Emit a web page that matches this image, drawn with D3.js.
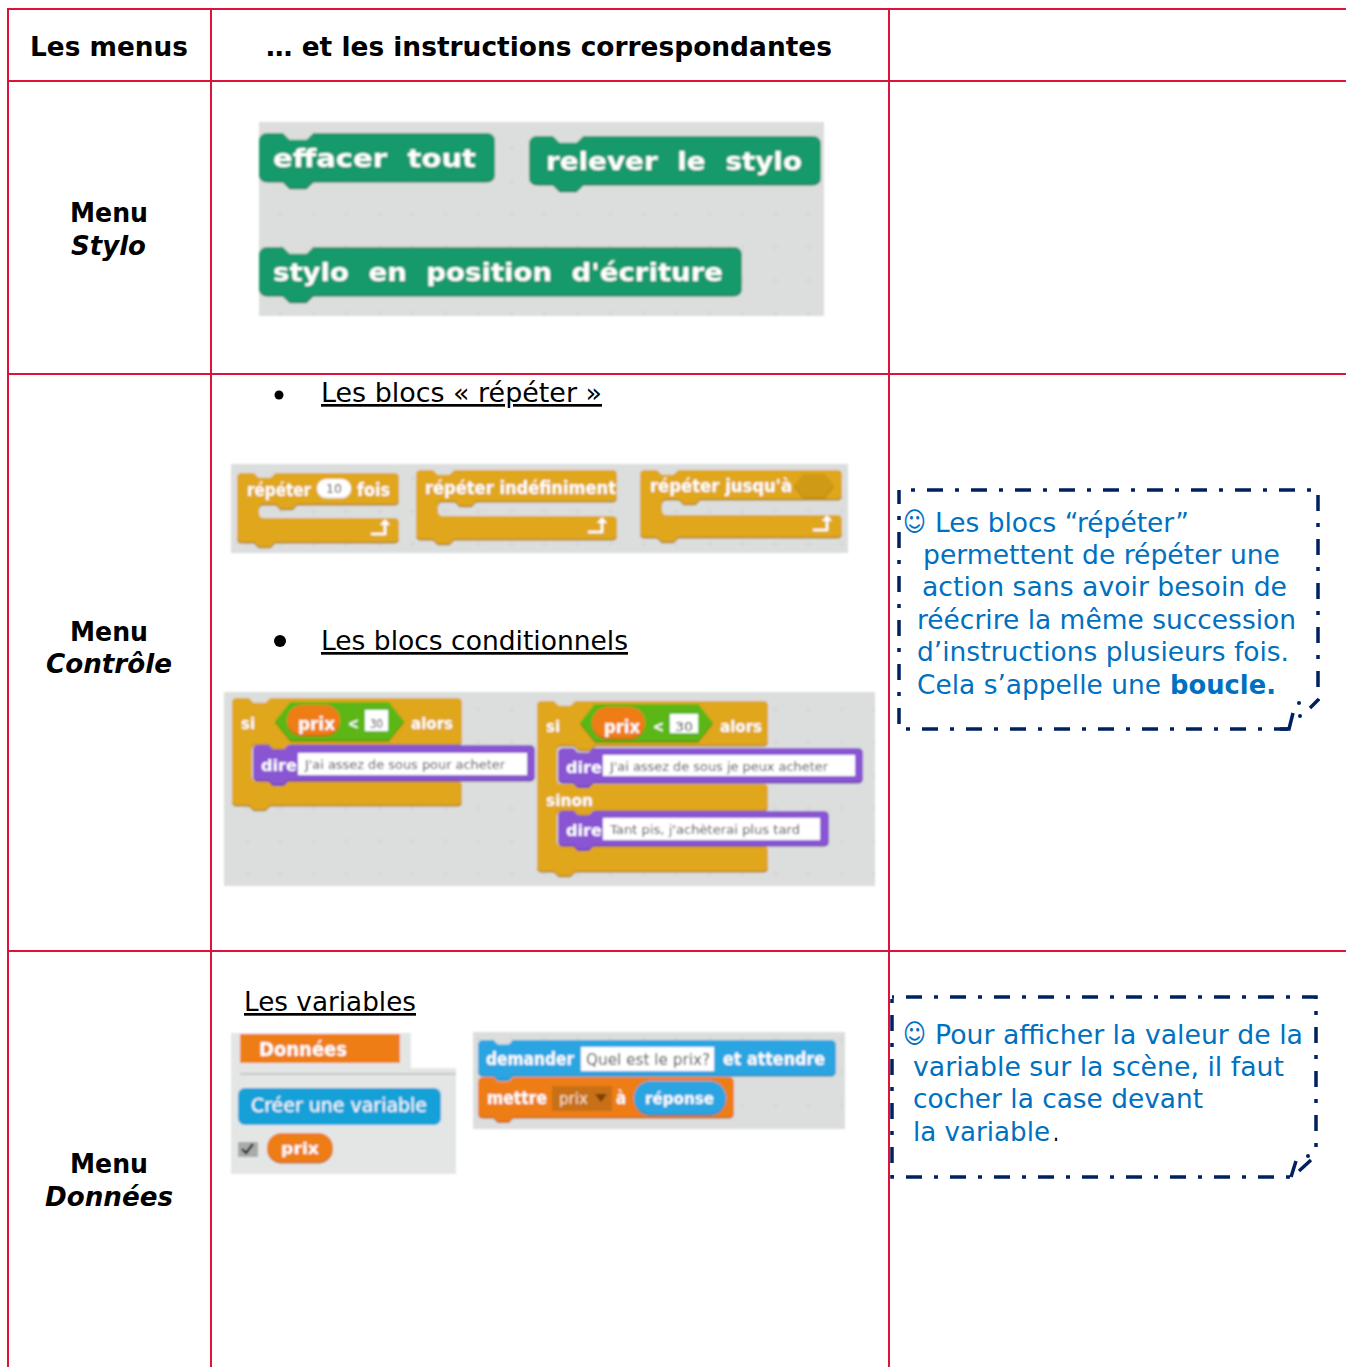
<!DOCTYPE html>
<html><head><meta charset="utf-8">
<style>html,body{margin:0;padding:0;background:#fff;overflow:hidden}svg{display:block}text{font-family:"DejaVu Sans",sans-serif}</style>
<script src="https://cdn.jsdelivr.net/npm/d3@7"></script></head><body>
<svg id="c" width="1349" height="1367"></svg>
<script>
// ---- content ----
const headers = ["Les menus", "… et les instructions correspondantes"];
const menuWord = "Menu";
const menuNames = ["Stylo", "Contrôle", "Données"];
const penBlocks = ["effacer tout", "relever le stylo", "stylo en position d'écriture"];
const sectionTitles = ["Les blocs « répéter »", "Les blocs conditionnels", "Les variables"];
const repeatLabels = ["répéter", "fois", "répéter indéfiniment", "répéter jusqu'à", "10"];
const condWords = ["si", "prix", "<", "30", "alors", "dire", "sinon"];
const condTexts = ["J'ai assez de sous pour acheter", "J'ai assez de sous je peux acheter", "Tant pis, j'achèterai plus tard"];
const dataLabels = ["Données", "Créer une variable", "prix", "demander", "Quel est le prix?", "et attendre", "mettre", "à", "réponse"];
const smile = "☺";
const note1 = ["Les blocs “répéter”", "permettent de répéter une", "action sans avoir besoin de", "réécrire la même succession", "d’instructions plusieurs fois.", "Cela s’appelle une ", "boucle."];
const note2 = ["Pour afficher la valeur de la", "variable sur la scène, il faut", "cocher la case devant", "la variable", "."];

// ---- styles ----
const RULE = "#dc143c", NOTE = "#0070c0", NAVY = "#002060", BG = "#dcdedd";
const GREEN = ["#129a6c", "#0b7a54"], YEL = ["#e0a61c", "#b08010"], PUR = ["#8a55d2", "#6a3aa8"],
      ORG = ["#ee7d16", "#c2620c"], BLU = ["#2ca5e2", "#1a80b8"], HEX = ["#5cb712", "#439010"];

const svg = d3.select("#c");
const defs = svg.append("defs");
defs.append("filter").attr("id", "soft").attr("x", "-2%").attr("y", "-2%").attr("width", "104%").attr("height", "104%")
  .append("feGaussianBlur").attr("stdDeviation", 0.8);
const pat = defs.append("pattern").attr("id", "dots").attr("patternUnits", "userSpaceOnUse").attr("width", 33).attr("height", 33);
pat.append("rect").attr("width", 33).attr("height", 33).attr("fill", BG);
pat.append("path").attr("d", "M14 16h5M16.500 14v5").attr("stroke", "#d2d4d3").attr("stroke-width", 1);

// ---- helpers ----
function label(g, t, x0, x1, base, size, o = {}) {
  return g.append("text").text(t).attr("x", x0).attr("y", base).attr("font-size", size)
    .attr("fill", o.fill || "#fff").attr("font-weight", o.w || "bold").attr("font-style", o.i || "normal")
    .attr("textLength", x1 - x0).attr("lengthAdjust", "spacingAndGlyphs")
    .attr("word-spacing", o.ws || null)
    .attr("text-decoration", o.u ? "underline" : null);
}
function topEdge(p, x, y, x1, u, r) {
  p.moveTo(x, y + r); p.quadraticCurveTo(x, y, x + r, y);
  p.lineTo(x + 14 * u, y); p.lineTo(x + 18 * u, y + 4 * u); p.lineTo(x + 28 * u, y + 4 * u); p.lineTo(x + 32 * u, y);
  p.lineTo(x1 - r, y); p.quadraticCurveTo(x1, y, x1, y + r);
}
function bottomEdge(p, x, y, x1, u, r) {
  p.lineTo(x1, y - r); p.quadraticCurveTo(x1, y, x1 - r, y);
  p.lineTo(x + 32 * u, y); p.lineTo(x + 28 * u, y + 4 * u); p.lineTo(x + 18 * u, y + 4 * u); p.lineTo(x + 14 * u, y);
  p.lineTo(x + r, y); p.quadraticCurveTo(x, y, x, y - r);
}
function shaded(g, d, col) {
  g.append("path").attr("d", d).attr("fill", col[1]).attr("transform", "translate(0,1.5)");
  g.append("path").attr("d", d).attr("fill", col[0]);
}
function stackBlock(g, x, y, x1, y1, u, col) {
  const p = d3.path(), r = 5 * u;
  topEdge(p, x, y, x1, u, r); bottomEdge(p, x, y1, x1, u, r); p.closePath();
  shaded(g, p.toString(), col);
}
function cBlock(g, x, y, x1, secs, y1, u, cw, colr) {
  const p = d3.path(), r = 4 * u;
  topEdge(p, x, y, x1, u, r);
  secs.forEach(([a, b]) => {
    const xi = x + cw;
    p.lineTo(x1, a - r); p.quadraticCurveTo(x1, a, x1 - r, a);
    p.lineTo(xi + 32 * u, a); p.lineTo(xi + 28 * u, a + 4 * u); p.lineTo(xi + 18 * u, a + 4 * u); p.lineTo(xi + 14 * u, a);
    p.lineTo(xi + r, a); p.quadraticCurveTo(xi, a, xi, a + r);
    p.lineTo(xi, b - r); p.quadraticCurveTo(xi, b, xi + r, b);
    p.lineTo(x1 - r, b); p.quadraticCurveTo(x1, b, x1, b + r);
  });
  bottomEdge(p, x, y1, x1, u, r); p.closePath();
  shaded(g, p.toString(), colr);
}
function hexagon(g, x, y, x1, y1, col) {
  const h = (y1 - y) / 2, d = h * 0.8;
  const s = `M${x} ${y + h}L${x + d} ${y}L${x1 - d} ${y}L${x1} ${y + h}L${x1 - d} ${y1}L${x + d} ${y1}Z`;
  shaded(g, s, col);
}
function pill(g, x, y, x1, y1, col) {
  const h = y1 - y;
  g.append("rect").attr("x", x).attr("y", y + 1.5).attr("width", x1 - x).attr("height", h).attr("rx", h / 2).attr("fill", col[1]);
  g.append("rect").attr("x", x).attr("y", y).attr("width", x1 - x).attr("height", h).attr("rx", h / 2).attr("fill", col[0]);
}
function box(g, x, y, x1, y1, fill, rx = 0) {
  return g.append("rect").attr("x", x).attr("y", y).attr("width", x1 - x).attr("height", y1 - y).attr("fill", fill).attr("rx", rx);
}
function returnArrow(g, x, y) {
  g.append("path").attr("d", `M${x - 24} ${y}H${x - 10}V${y - 10}`).attr("fill", "none").attr("stroke", "#fff").attr("stroke-width", 2.6);
  g.append("path").attr("d", `M${x - 15} ${y - 9}L${x - 10} ${y - 15}L${x - 5} ${y - 9}Z`).attr("fill", "#fff");
}

// ---- table rules ----
const rules = svg.append("g").attr("fill", RULE);
[9, 81, 374, 951].forEach(y => box(rules, 7, y - 1, 1346, y + 1, RULE));
[8, 211, 889].forEach(x => box(rules, x - 1, 8, x + 1, 1367, RULE));

// ---- left and header text ----
const T = svg.append("g");
const K = { fill: "#000" };
label(T, headers[0], 30, 188, 56, 26.5, K);
label(T, headers[1], 266, 832, 56, 26.5, K);
const nameX = [[71, 146], [46, 172], [45, 173]];
[[222, 255], [641, 673], [1173, 1206]].forEach(([a, b], i) => {
  label(T, menuWord, 70, 148, a, 26.5, K);
  label(T, menuNames[i], nameX[i][0], nameX[i][1], b, 26.5, { fill: "#000", i: "italic" });
});
label(T, sectionTitles[0], 321, 602, 402, 27, { fill: "#000", w: "normal", u: 1 });
label(T, sectionTitles[1], 321, 628, 650, 27, { fill: "#000", w: "normal", u: 1 });
label(T, sectionTitles[2], 244, 416, 1011, 27, { fill: "#000", w: "normal", u: 1 });
T.append("circle").attr("cx", 279).attr("cy", 395).attr("r", 4.5);
T.append("circle").attr("cx", 280).attr("cy", 641).attr("r", 6);

// ---- pen blocks ----
const gPen = svg.append("g").attr("filter", "url(#soft)");
box(gPen, 259, 122, 824, 316, "url(#dots)");
stackBlock(gPen, 259, 133, 495, 181, 1.7, GREEN);
stackBlock(gPen, 529, 136, 821, 184, 1.7, GREEN);
stackBlock(gPen, 259, 247, 742, 295, 1.7, GREEN);
label(gPen, penBlocks[0], 273, 476, 167, 25, { ws: 9 });
label(gPen, penBlocks[1], 546, 802, 170, 25, { ws: 9 });
label(gPen, penBlocks[2], 273, 723, 281, 25, { ws: 9 });

// ---- repeat blocks ----
const gRep = svg.append("g").attr("filter", "url(#soft)");
box(gRep, 231, 464, 848, 553, "url(#dots)");
cBlock(gRep, 237, 473, 399, [[504, 518]], 542, 1.2, 22, YEL);
cBlock(gRep, 416, 470, 617, [[501, 516]], 539, 1.2, 22, YEL);
cBlock(gRep, 640, 470, 842, [[499, 515]], 537, 1.2, 22, YEL);
label(gRep, repeatLabels[0], 247, 311, 496, 17);
pill(gRep, 317, 479, 351, 497, ["#fff", "#e8e8e8"]);
label(gRep, repeatLabels[4], 326, 342, 493, 12, { fill: "#444", w: "normal" });
label(gRep, repeatLabels[1], 357, 390, 496, 17);
label(gRep, repeatLabels[2], 425, 616, 494, 17);
label(gRep, repeatLabels[3], 650, 792, 492, 17);
hexagon(gRep, 794, 474, 834, 497, ["#cf9a18", "#bb8a12"]);
returnArrow(gRep, 395, 534); returnArrow(gRep, 612, 532); returnArrow(gRep, 837, 530);

// ---- conditional blocks ----
const gIf = svg.append("g").attr("filter", "url(#soft)");
box(gIf, 224, 692, 875, 886, "url(#dots)");
function predicate(px0, px1, py0, py1, hx0, hx1, hy0, hy1, lt, nx0, nx1, ny0, ny1, base, tx0, tx1, ax0, ax1, sx) {
  hexagon(gIf, hx0, hy0, hx1, hy1, HEX);
  pill(gIf, px0, py0, px1, py1, ORG);
  label(gIf, condWords[1], tx0, tx1, base, 17);
  label(gIf, condWords[2], lt, lt + 11, base - 1, 15);
  box(gIf, nx0, ny0, nx1, ny1, "#fff");
  label(gIf, condWords[3], nx0 + 5, nx1 - 5, base - 2, 12, { fill: "#333", w: "normal" });
  label(gIf, condWords[4], ax0, ax1, base - 1, 15);
  label(gIf, condWords[0], sx, sx + 14, base - 1, 15);
}
function say(x, y, x1, y1, ix0, ix1, iy0, iy1, t, tx0, tx1, base) {
  stackBlock(gIf, x, y, x1, y1, 1.1, PUR);
  box(gIf, ix0, iy0, ix1, iy1, "#fff");
  label(gIf, condWords[5], x + 8, ix0 - 1, base + 2, 16);
  label(gIf, t, tx0, tx1, base, 13, { fill: "#444", w: "normal" });
}
cBlock(gIf, 232, 698, 462, [[744, 781]], 805, 1.2, 20, YEL);
predicate(287, 340, 705, 735, 275, 404, 702, 740, 348, 365, 388, 710, 731, 730, 298, 335, 411, 453, 241);
say(253, 745, 535, 780, 298, 527, 753, 775, condTexts[0], 305, 505, 769);
cBlock(gIf, 537, 701, 768, [[745, 784], [810, 846]], 871, 1.2, 20, YEL);
predicate(592, 645, 707, 738, 580, 713, 704, 741, 653, 670, 698, 714, 733, 733, 604, 640, 720, 762, 546);
say(558, 748, 863, 782, 603, 855, 755, 776, condTexts[1], 610, 828, 771);
say(558, 811, 829, 845, 603, 820, 818, 840, condTexts[2], 610, 800, 834);
label(gIf, condWords[6], 546, 593, 806, 16);

// ---- data panel ----
const gVar = svg.append("g").attr("filter", "url(#soft)");
box(gVar, 231, 1033, 456, 1174, "#e4e6e6");
box(gVar, 411, 1033, 456, 1068, "#fff");
box(gVar, 240, 1034, 400, 1063, "#ee7d16");
label(gVar, dataLabels[0], 259, 347, 1056, 19);
box(gVar, 240, 1073, 456, 1075, "#c4c6c6");
box(gVar, 238, 1088, 441, 1125, "#18a0d8", 7);
label(gVar, dataLabels[1], 251, 427, 1112, 19, { w: "normal" });
box(gVar, 238, 1142, 258, 1157, "#a9aaaa");
gVar.append("path").attr("d", "M242 1149l4 4l7 -9").attr("fill", "none").attr("stroke", "#111").attr("stroke-width", 2.2);
pill(gVar, 267, 1133, 333, 1162, ORG);
label(gVar, dataLabels[2], 281, 319, 1154, 15);

const gAsk = svg.append("g").attr("filter", "url(#soft)");
box(gAsk, 473, 1032, 845, 1129, "url(#dots)");
stackBlock(gAsk, 478, 1040, 836, 1075, 1.1, BLU);
stackBlock(gAsk, 478, 1077, 734, 1117, 1.1, ORG);
box(gAsk, 581, 1047, 714, 1071, "#fff");
label(gAsk, dataLabels[3], 486, 574, 1065, 17);
label(gAsk, dataLabels[4], 586, 710, 1065, 15, { fill: "#444", w: "normal" });
label(gAsk, dataLabels[5], 723, 825, 1065, 17);
label(gAsk, dataLabels[6], 487, 547, 1104, 17);
box(gAsk, 552, 1086, 612, 1111, "#c76f14");
label(gAsk, dataLabels[2], 559, 588, 1104, 15, { w: "normal", fill: "#fbe3c8" });
gAsk.append("path").attr("d", "M595 1094h12l-6 8z").attr("fill", "#7a3f05");
label(gAsk, dataLabels[7], 616, 626, 1104, 17);
pill(gAsk, 634, 1081, 726, 1114, BLU);
label(gAsk, dataLabels[8], 645, 714, 1104, 16);

// ---- notes ----
function dashed(d, offset) {
  svg.append("path").attr("d", d).attr("fill", "none").attr("stroke", NAVY).attr("stroke-width", 3.5)
    .attr("stroke-dasharray", "16,12,4,12").attr("stroke-dashoffset", offset);
}
function solid(d) {
  svg.append("path").attr("d", d).attr("fill", "none").attr("stroke", NAVY).attr("stroke-width", 3.5);
}
const N = svg.append("g");
dashed("M899 490H1318V700", 16);
dashed("M1288 729H899V490", 2);
solid("M1280 729H1289L1293 713M1310 708L1319 699");
N.append("g").attr("fill", NAVY).selectAll("circle").data([0, 1]).join("circle")
  .attr("cx", i => [1299, 1300][i]).attr("cy", i => [703, 716][i]).attr("r", 2);
label(N, smile, 903, 926, 531, 27, { fill: NOTE, w: "normal" });
const n1x = [[935, 1189, 532], [923, 1280, 564], [922, 1287, 596], [917, 1296, 629], [917, 1289, 661], [917, 1161, 694]];
n1x.forEach(([a, b, y], i) => label(N, note1[i], a, b, y, 27, { fill: NOTE, w: "normal" }));
label(N, note1[6], 1170, 1276, 694, 27, { fill: NOTE });

dashed("M892 997H1316V1154", 30);
dashed("M1291 1177H892V997", 27);
solid("M1291 1177L1296 1161M1299 1171L1311 1160");
N.append("circle").attr("cx", 1308).attr("cy", 1156).attr("r", 2).attr("fill", NAVY);
label(N, smile, 903, 926, 1043, 27, { fill: NOTE, w: "normal" });
const n2x = [[935, 1303, 1044], [913, 1284, 1076], [913, 1203, 1108], [913, 1050, 1141]];
n2x.forEach(([a, b, y], i) => label(N, note2[i], a, b, y, 27, { fill: NOTE, w: "normal" }));
label(N, note2[4], 1053, 1059, 1141, 27, { fill: "#000", w: "normal" });
</script></body></html>
